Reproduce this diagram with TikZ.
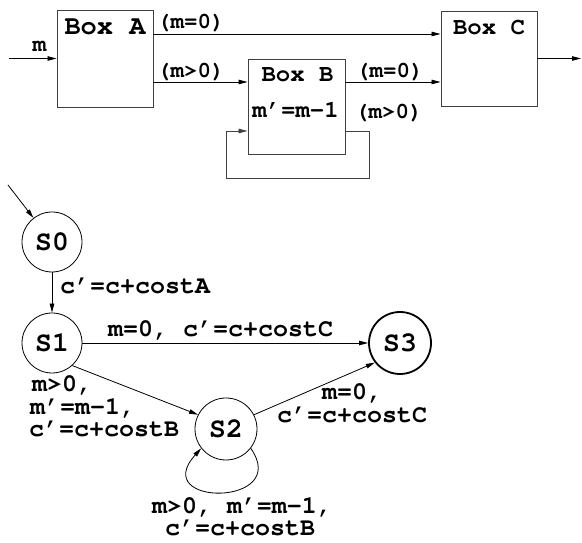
\documentclass[tikz,border=0pt]{standalone}
\usepackage[T1]{fontenc}
\usetikzlibrary{arrows.meta}
% bold Courier at a given size (pt)
\newcommand\cour[1]{\fontencoding{T1}\fontfamily{pcr}\bfseries\fontsize{#1}{#1}\selectfont}

\begin{document}
\begin{tikzpicture}[x=1pt,y=1pt,
  arr/.style={-{Triangle[length=9pt,width=4.5pt]}, line width=0.8pt},
  boxnode/.style={draw=black!75, line width=0.9pt, inner sep=0pt,
                  minimum width=96pt, minimum height=96pt},
  state/.style={draw, circle, line width=0.8pt, inner sep=0pt,
                minimum size=60pt, font=\cour{28}},
  txt/.style={inner sep=0pt, anchor=base west, font=\cour{25}},
  ctxt/.style={inner sep=0pt, anchor=base, font=\cour{25}},
  cond/.style={inner sep=0pt, anchor=base west, font=\cour{22.5}}]
\useasboundingbox (0,0) rectangle (582,543);

% ---------- block diagram ----------
\node[boxnode, minimum height=97pt] (boxA) at (105,484.5) {};
\node[boxnode, minimum width=97pt, minimum height=95pt] (boxB) at (296.5,436.5) {};
\node[boxnode, minimum height=95pt] (boxC) at (489,484.5) {};

\node[inner sep=0pt, anchor=base, font=\cour{27}] (tA) at (105,508) {Box A};
\node[inner sep=0pt, anchor=base, font=\cour{24}] (tB) at (297.5,461) {Box B};
\node[inner sep=0pt, anchor=base, font=\cour{24}] (tBm) at (295.5,425) {m'=m-1};
\node[inner sep=0pt, anchor=base, font=\cour{24}] (tC) at (489,508) {Box C};

\coordinate (src) at (9,484.5);
\coordinate (sink) at (581,484.5);
\draw[arr] (src) -- (boxA.west);
\node[inner sep=0pt, anchor=base, font=\cour{23}] (lm) at (39.5,491) {m};
\draw[arr] (boxC.east) -- (sink);

\draw[arr] (boxA.east |- 0,509) -- (boxC.west |- 0,509);
\node[cond] (lA0) at (157,514) {(m=0)};
\draw[arr] (boxA.east |- 0,461) -- (boxB.west |- 0,461);
\node[cond] (lA1) at (157,465) {(m>0)};
\draw[arr] (boxB.east |- 0,461) -- (boxC.west |- 0,461);
\node[cond] (lB0) at (356,465) {(m=0)};
\node[cond] (lB1) at (355,424) {(m>0)};

% feedback loop of Box B
\coordinate (fb1) at (369,412);
\coordinate (fb2) at (369,365);
\coordinate (fb3) at (226,365);
\coordinate (fb4) at (226,412);
\draw[arr, draw=black!75] (boxB.east |- fb1) -- (fb1) -- (fb2) -- (fb3) -- (fb4) -- (boxB.west |- fb4);

% ---------- state machine ----------
\node[state] (s0) at (52,301) {S0};
\node[state] (s1) at (52,200) {S1};
\node[state, minimum size=62pt] (s2) at (226,114) {S2};
\node[state, minimum size=62pt, line width=1.8pt] (s3) at (400,200) {S3};

\coordinate (init) at (8,358);
\draw[arr] (init) -- (s0);
\draw[arr] (s0) -- (s1);
\node[txt] (e01) at (60,249) {c'=c+costA};
\draw[arr] (s1) -- (s3);
\node[txt] (e13) at (108,206) {m=0, c'=c+costC};
\draw[arr] (s1.-48) -- (s2.153);
\node[txt] (e12a) at (32,151) {m>0,};
\node[txt] (e12b) at (30,128.5) {m'=m-1,};
\node[txt] (e12c) at (29,106) {c'=c+costB};
\draw[arr] (s2.27) -- (s3.218);
\node[ctxt] (e23a) at (352,143) {m=0,};
\node[ctxt] (e23b) at (352,120.5) {c'=c+costC};
\draw[arr] (s2.-38) .. controls (292,36) and (148,36) .. (s2.-142);
\node[ctxt] (e22a) at (242,29) {m>0, m'=m-1,};
\node[ctxt] (e22b) at (240,7) {c'=c+costB};
\end{tikzpicture}
\end{document}
